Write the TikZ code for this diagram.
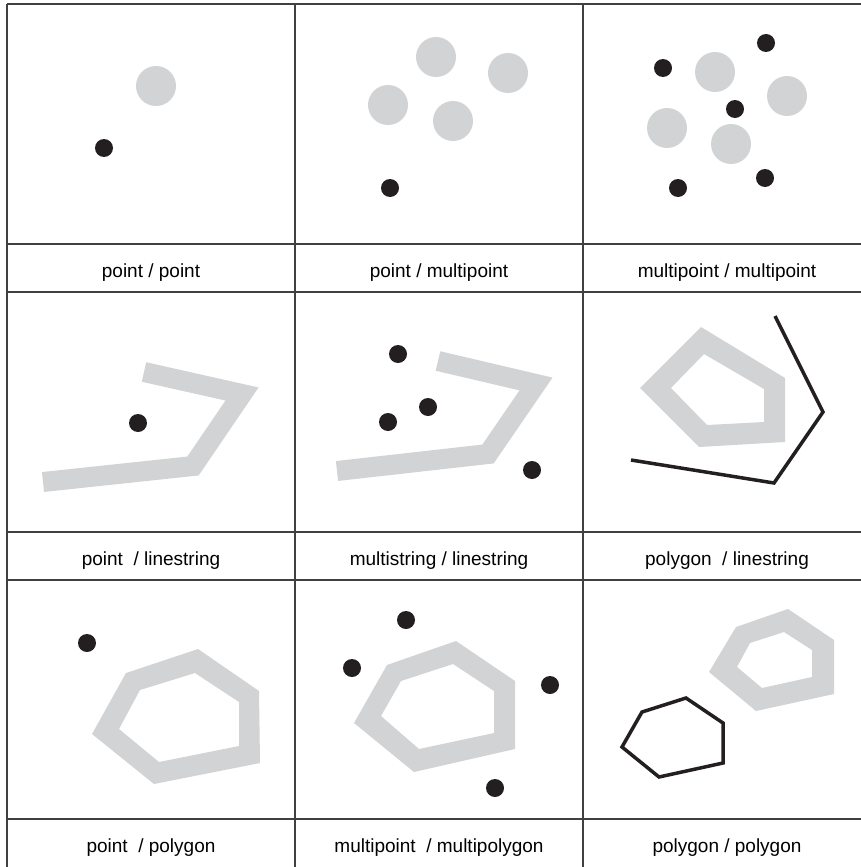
\documentclass[tikz,border=0pt]{standalone}
\usepackage{fontspec}
\setmainfont{Liberation Sans}
\usepackage{tikz}
\usepackage{xcolor}
\definecolor{ptblack}{HTML}{231F20}
\definecolor{geogray}{HTML}{D1D3D4}
\definecolor{gridline}{HTML}{404040}
\begin{document}
\begin{tikzpicture}[x=1pt,y=-1pt,line width=1.2pt,
  ptdot/.style={fill=ptblack},
  geoblob/.style={fill=geogray},
  geoband/.style={draw=geogray,line width=20pt,line join=miter,line cap=butt},
  georing/.style={fill=geogray,even odd rule},
  geoline/.style={draw=ptblack,line width=3.5pt,line join=miter},
  lbl/.style={font=\fontsize{19}{22}\selectfont,anchor=base,inner sep=0pt}]
\useasboundingbox (0,0) rectangle (861,867);
% grid
\draw[gridline] (7,4) -- (7,867) (295,4) -- (295,867) (583,4) -- (583,867);
\draw[gridline] (7,4) -- (861,4) (7,244) -- (861,244) (7,292) -- (861,292)
  (7,532) -- (861,532) (7,580) -- (861,580) (7,819) -- (861,819);
% point / point
\fill[geoblob] (156,86) circle (20);
\fill[ptdot] (104,148) circle (9);
\node[lbl] (pp) at (151,277){point / point};
% point / multipoint
\fill[geoblob] (436,57) circle (20) (508,73) circle (20) (388,105) circle (20) (453,121) circle (20);
\fill[ptdot] (390,188) circle (9);
\node[lbl] (pmp) at (439,277){point / multipoint};
% multipoint / multipoint
\fill[geoblob] (715,72) circle (20) (787,96) circle (20) (667,128) circle (20) (731,144) circle (20);
\fill[ptdot] (663,68) circle (9) (766,43) circle (9) (735,109) circle (9) (678,188) circle (9) (765,178) circle (9);
\node[lbl] (mpmp) at (727,277){multipoint / multipoint};
% point / linestring
\draw[geoband] (144,372) -- (242,394) -- (193,466) -- (43,482);
\fill[ptdot] (138,423) circle (9);
\node[lbl] (pls) at (151,565){point~ / linestring};
% multistring / linestring
\draw[geoband] (438,361) -- (536,384) -- (488,454) -- (337,471);
\fill[ptdot] (398,354) circle (9) (428,407) circle (9) (388,422) circle (9) (532,470) circle (9);
\node[lbl] (msls) at (439,565){multistring / linestring};
% polygon / linestring
\fill[georing] (701,327) -- (785,378) -- (785,442) -- (699,447) -- (640,388) -- cycle
  (704,354) -- (764,389) -- (764,422) -- (707,425) -- (671,388) -- cycle;
\draw[geoline] (775,316) -- (823,412) -- (774,483) -- (631,460);
\node[lbl] (pgls) at (727,565){polygon~ / linestring};
% point / polygon
\fill[ptdot] (87,643) circle (9);
\fill[georing] (126,673) -- (198,649) -- (259,691) -- (260,763) -- (154,784) -- (92,734) -- cycle
  (140,690) -- (195,673) -- (239,702) -- (239,746) -- (159,762) -- (119,729) -- cycle;
\node[lbl] (ppg) at (151,852){point~ / polygon};
% multipoint / multipolygon
\fill[georing] (387,665) -- (456,641) -- (515,681) -- (515,749) -- (414,772) -- (354,723) -- cycle
  (401,681) -- (453,664) -- (494,691) -- (494,733) -- (419,749) -- (381,716) -- cycle;
\fill[ptdot] (406,620) circle (9) (352,668) circle (9) (550,685) circle (9) (495,788) circle (9);
\node[lbl] (mpmpg) at (439,852){multipoint~ / multipolygon};
% polygon / polygon
\fill[georing] (736,627) -- (788,609) -- (834,640) -- (834,694) -- (756,711) -- (709,672) -- cycle
  (750,643) -- (784,632) -- (812,650) -- (812,677) -- (762,688) -- (737,667) -- cycle;
\draw[geoline] (686,698) -- (723,723) -- (723,763) -- (659,777) -- (622,747) -- (642,712) -- cycle;
\node[lbl] (pgpg) at (727,852){polygon / polygon};
\end{tikzpicture}
\end{document}
